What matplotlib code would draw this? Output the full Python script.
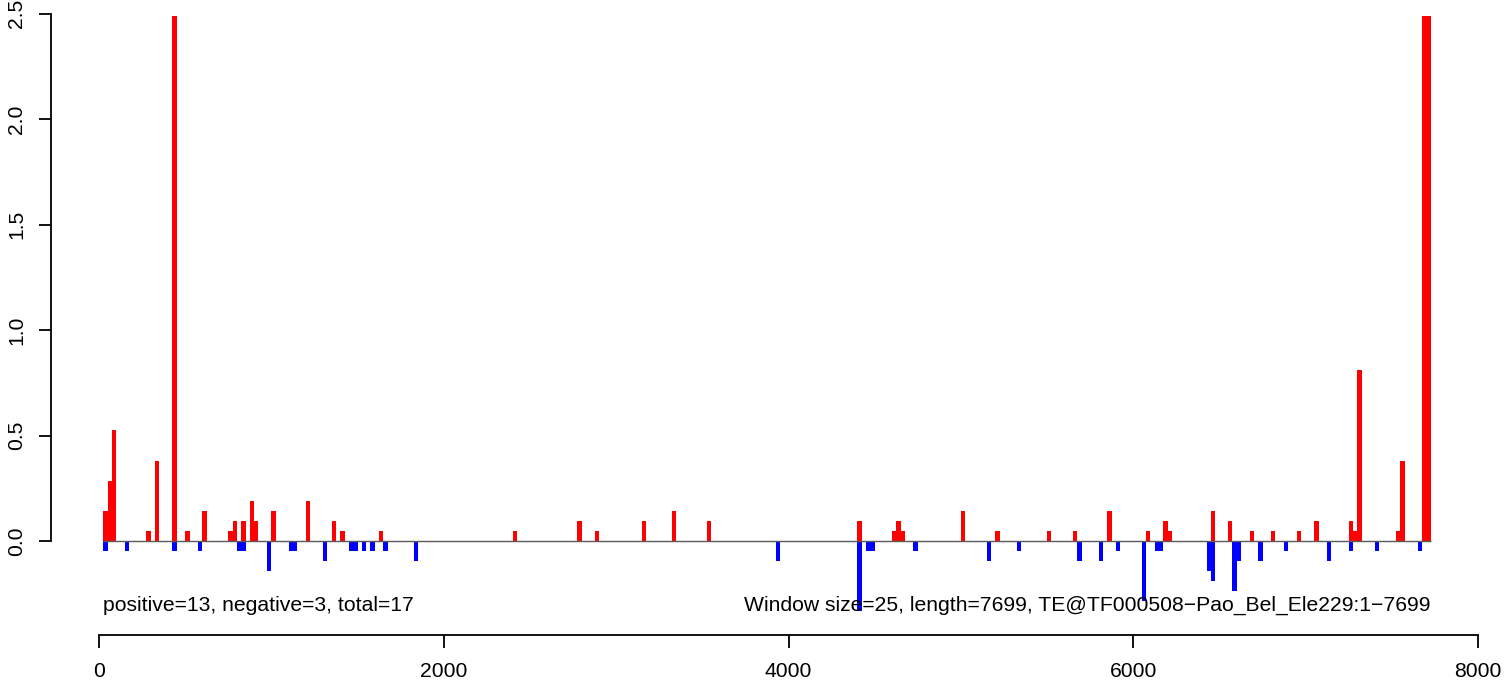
import matplotlib
matplotlib.use('Agg')
import matplotlib.pyplot as plt

# window start positions and scores (window size 25)
pos_x = [25, 50, 75, 275, 325, 425, 500, 600, 750, 775, 825, 875, 900, 1000, 1200,
         1350, 1400, 1625, 2400, 2775, 2875, 3150, 3325, 3525, 4400, 4600, 4625, 4650,
         5000, 5200, 5500, 5650, 5850, 6075, 6175, 6200, 6450, 6550, 6675, 6800, 6950,
         7050, 7250, 7275, 7300, 7525, 7550, 7675, 7700]
pos_h = [0.143, 0.286, 0.524, 0.048, 0.381, 2.49, 0.048, 0.143, 0.048, 0.095, 0.095,
         0.19, 0.095, 0.143, 0.19, 0.095, 0.048, 0.048, 0.048, 0.095, 0.048, 0.095,
         0.143, 0.095, 0.095, 0.048, 0.095, 0.048, 0.143, 0.048, 0.048, 0.048, 0.143,
         0.048, 0.095, 0.048, 0.143, 0.095, 0.048, 0.048, 0.048, 0.095, 0.095, 0.048,
         0.81, 0.048, 0.381, 2.49, 2.49]

neg_x = [25, 150, 425, 575, 800, 825, 975, 1100, 1125, 1300, 1450, 1475, 1525, 1575,
         1650, 1825, 3925, 4400, 4450, 4475, 4725, 5150, 5325, 5675, 5800, 5900, 6050,
         6125, 6150, 6425, 6450, 6575, 6600, 6725, 6875, 7125, 7250, 7400, 7650]
neg_h = [-0.048, -0.048, -0.048, -0.048, -0.048, -0.048, -0.143, -0.048, -0.048,
         -0.095, -0.048, -0.048, -0.048, -0.048, -0.048, -0.095, -0.095, -0.333,
         -0.048, -0.048, -0.048, -0.095, -0.048, -0.095, -0.095, -0.048, -0.286,
         -0.048, -0.048, -0.143, -0.19, -0.238, -0.095, -0.095, -0.048, -0.095,
         -0.048, -0.048, -0.048]

win = 25
seq_len = 7699
x_ticks = [0, 2000, 4000, 6000, 8000]
y_ticks = [0.0, 0.5, 1.0, 1.5, 2.0, 2.5]
left_note = 'positive=13, negative=3, total=17'
right_note = 'Window size=25, length=7699, TE@TF000508\u2212Pao_Bel_Ele229:1\u22127699'

plt.rcParams['font.family'] = ['Liberation Sans', 'DejaVu Sans']
fs = 15.2

fig = plt.figure(figsize=(15.06, 6.84), dpi=100)
ax = fig.add_axes([0.06574, 0.08567, 0.91567, 0.89459])

ax.bar(pos_x, pos_h, width=win, align='edge', color='#ff0000', linewidth=0)
ax.bar(neg_x, neg_h, width=win, align='edge', color='#0000ff', linewidth=0)
ax.hlines(0, win, seq_len + 26, color='#5a5a5a', linewidth=1.0, zorder=3)

ax.text(win, -0.304, left_note, ha='left', va='center', fontsize=fs)
ax.text(seq_len + 26, -0.304, right_note, ha='right', va='center', fontsize=fs)

ax.set_xlim(0, 8000)
ax.set_ylim(-0.4, 2.5)
ax.set_xticks(x_ticks)
ax.set_xticklabels([str(t) for t in x_ticks])
ax.set_yticks(y_ticks)
ax.set_yticklabels(['%.1f' % t for t in y_ticks])

for s in ['top', 'right']:
    ax.spines[s].set_visible(False)
ax.spines['bottom'].set_position(('outward', 6.9))
ax.spines['bottom'].set_bounds(0, 8000)
ax.spines['left'].set_position(('outward', 34.6))
ax.spines['left'].set_bounds(0, 2.5)
for s in ['bottom', 'left']:
    ax.spines[s].set_linewidth(1.3)

ax.tick_params(axis='both', length=9, width=1.3, labelsize=fs)
ax.tick_params(axis='x', pad=10.5)
ax.tick_params(axis='y', pad=9)
plt.setp(ax.get_yticklabels(), rotation=90, va='center', ha='right')

plt.savefig('out.png', format='png', dpi=100)
plt.close()
